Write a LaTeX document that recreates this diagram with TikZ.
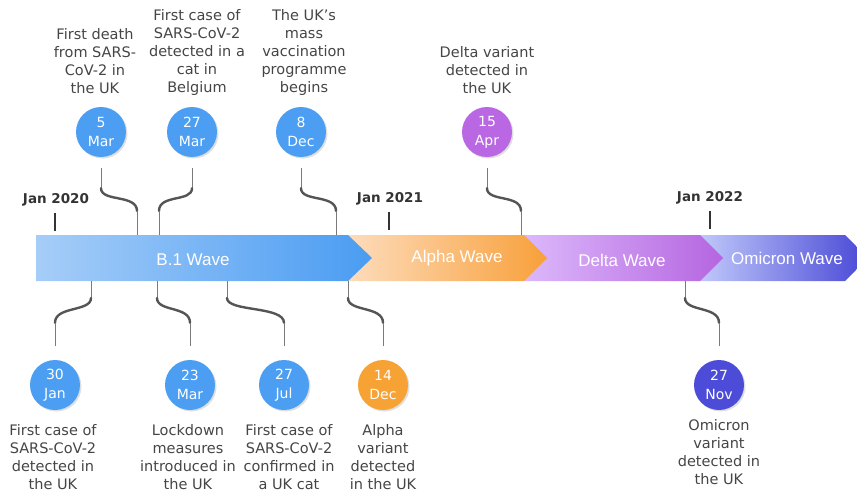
\documentclass[tikz,border=0pt]{standalone}
\usepackage{fontspec}
\setmainfont{DejaVu Sans}
\newfontfamily\wavefont{Liberation Sans}
\usetikzlibrary{calc,shadows}
\definecolor{txtgray}{HTML}{454545}
\definecolor{yeargray}{HTML}{333333}
\definecolor{cblue}{HTML}{4B9EF2}
\definecolor{corange}{HTML}{F7A234}
\definecolor{cpurple}{HTML}{B967E2}
\definecolor{cnavy}{HTML}{4C4CD9}
\definecolor{linegray}{HTML}{7A7A7A}
\definecolor{curvegray}{HTML}{555555}
\tikzset{
  datecirc/.style={circle, minimum size=50pt, inner sep=0pt, text=white, align=center,
    font=\fontsize{14}{19}\selectfont,
    drop shadow={opacity=0.25, shadow xshift=1.5pt, shadow yshift=-1.5pt}},
  evtext/.style={text=txtgray, align=center, inner sep=0pt, font=\fontsize{14.5}{18}\selectfont},
  yeartext/.style={text=yeargray, inner sep=0pt, font=\bfseries\fontsize{13.5}{15}\selectfont},
  wavetext/.style={text=white, inner sep=0pt, font=\wavefont\fontsize{17}{20}\selectfont},
  thinl/.style={draw=linegray, line width=0.9pt},
  thickl/.style={draw=curvegray, line width=2.4pt, line cap=round},
  tickl/.style={draw=yeargray, line width=1.6pt},
}
\newcommand\topconn[2]{%
  \draw[thinl] ($(#1.south)+(0,11)$) -- ($(#1.south)+(0,31)$) coordinate (#1-a);
  \draw[thickl] (#1-a) .. controls +(0,14) and +(0,-17) .. (#2,211) coordinate (#1-b);
  \draw[thinl] (#1-b) -- (#2,235) coordinate (#1-e);}
\newcommand\botconn[2]{%
  \coordinate (#1-s) at (#2,281);
  \draw[thinl] (#1-s) -- (#2,298) coordinate (#1-a);
  \draw[thickl] (#1-a) .. controls +(0,14) and +(0,-17) .. ($(#1.north)+(0,-37)$) coordinate (#1-b);
  \draw[thinl] (#1-b) -- ($(#1.north)+(0,-14)$);}
\begin{document}
\begin{tikzpicture}[x=1pt,y=-1pt]
\useasboundingbox (0,0) rectangle (857,495);
% wave arrows (right to left so tips overlap)
\shade[left color={rgb,255:red,192;green,200;blue,250}, right color={rgb,255:red,80;green,80;blue,216}]
  (700,235) -- (845,235) -- (857,247) -- (857,269) -- (845,281) -- (700,281) -- cycle;
\shade[left color={rgb,255:red,220;green,184;blue,251}, right color={rgb,255:red,181;green,101;blue,224}]
  (524,235) -- (700,235) -- (723,258) -- (700,281) -- (524,281) -- cycle;
\shade[left color={rgb,255:red,253;green,220;blue,188}, right color={rgb,255:red,248;green,160;blue,58}]
  (348,235) -- (524,235) -- (547,258) -- (524,281) -- (348,281) -- cycle;
\shade[left color={rgb,255:red,166;green,205;blue,248}, right color={rgb,255:red,74;green,156;blue,242}]
  (36,235) -- (348,235) -- (372,258) -- (348,281) -- (36,281) -- cycle;
\node[wavetext] (wb1) at (193,260) {B.1 Wave};
\node[wavetext] (wal) at (457,258) {Alpha Wave};
\node[wavetext] (wde) at (622,260) {Delta Wave};
\node[wavetext] (wom) at (787,258) {Omicron Wave};
% years
\node[yeartext] (y20) at (56,200) {Jan 2020};
\node[yeartext] (y21) at (390,199) {Jan 2021};
\node[yeartext] (y22) at (710,198) {Jan 2022};
\draw[tickl] ($(y20.south)+(-1,6)$) -- ($(y20.south)+(-1,24)$);
\draw[tickl] ($(y21.south)+(-1,6)$) -- ($(y21.south)+(-1,24)$);
\draw[tickl] ($(y22.south)+(0,6)$) -- ($(y22.south)+(0,24)$);
% top events
\node[datecirc, fill=cblue] (d5mar) at (101,132) {5\\Mar};
\node[datecirc, fill=cblue] (d27mar) at (192,132) {27\\Mar};
\node[datecirc, fill=cblue] (d8dec) at (301,132) {8\\Dec};
\node[datecirc, fill=cpurple] (d15apr) at (487,132) {15\\Apr};
\node[evtext] (t5mar) at (95,61) {First death\\from SARS-\\CoV-2 in\\the UK};
\node[evtext] (t27mar) at (197,52) {First case of\\SARS-CoV-2\\detected in a\\cat in\\Belgium};
\node[evtext] (t8dec) at (304,52) {The UK’s\\mass\\vaccination\\programme\\begins};
\node[evtext] (t15apr) at (487,70) {Delta variant\\detected in\\the UK};
\topconn{d5mar}{137}
\topconn{d27mar}{159}
\topconn{d8dec}{336}
\topconn{d15apr}{521}
% bottom events
\node[datecirc, fill=cblue] (d30jan) at (55,385) {30\\Jan};
\node[datecirc, fill=cblue] (d23mar) at (190,385) {23\\Mar};
\node[datecirc, fill=cblue] (d27jul) at (284,385) {27\\Jul};
\node[datecirc, fill=corange] (d14dec) at (383,385) {14\\Dec};
\node[datecirc, fill=cnavy] (d27nov) at (719,385) {27\\Nov};
\node[evtext] (t30jan) at (53,457) {First case of\\SARS-CoV-2\\detected in\\the UK};
\node[evtext] (t23mar) at (188,457) {Lockdown\\measures\\introduced in\\the UK};
\node[evtext] (t27jul) at (289,457) {First case of\\SARS-CoV-2\\confirmed in\\a UK cat};
\node[evtext] (t14dec) at (383,457) {Alpha\\variant\\detected\\in the UK};
\node[evtext] (t27nov) at (719,452) {Omicron\\variant\\detected in\\the UK};
\botconn{d30jan}{91}
\botconn{d23mar}{157}
\botconn{d27jul}{227}
\botconn{d14dec}{348}
\botconn{d27nov}{685}
\end{tikzpicture}
\end{document}
